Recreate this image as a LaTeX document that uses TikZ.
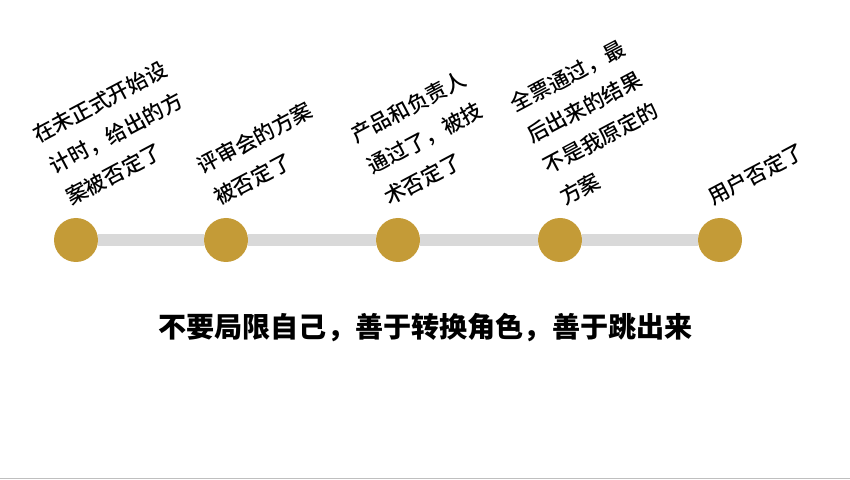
\documentclass[tikz,border=0pt]{standalone}
\usepackage{fontspec}
\newfontfamily\cjk{Noto Sans CJK SC}
\newfontfamily\cjkmed{Noto Sans CJK SC Medium}
\usetikzlibrary{positioning}
\definecolor{gold}{HTML}{C49B37}
\definecolor{track}{HTML}{D9D9D9}

\begin{document}
\begin{tikzpicture}[
    stop/.style={circle,fill=gold,minimum size=0.88cm,inner sep=0pt},
    rail/.style={draw=track,line width=0.24cm},
    lbl/.style={rotate=28,anchor=south west,align=left,inner sep=0pt,
      font=\cjkmed\fontsize{12}{20}\selectfont},
    motto/.style={font=\cjk\bfseries\fontsize{16}{20}\selectfont}
  ]
  \useasboundingbox (0,0) rectangle (17,9.58);

  \node[stop] (c1) at (1.52,4.78) {};
  \node[stop] (c2) at (4.52,4.78) {};
  \node[stop] (c3) at (7.96,4.78) {};
  \node[stop] (c4) at (11.20,4.78) {};
  \node[stop] (c5) at (14.40,4.78) {};

  \path[rail] (c1) edge (c2) (c2) edge (c3) (c3) edge (c4) (c4) edge (c5);

  \node[lbl] (t1) at (1.44,5.42) {在未正式开始设\\计时，给出的方\\案被否定了};
  \node[lbl] (t2) at (4.40,5.42) {评审会的方案\\被否定了};
  \node[lbl] (t3) at (7.80,5.42) {产品和负责人\\通过了，被技\\术否定了};
  \node[lbl] (t4) at (11.32,5.42) {全票通过，最\\后出来的结果\\不是我原定的\\方案};
  \node[lbl] (t5) at (14.28,5.42) {用户否定了};

  \node[motto] (m) at (8.51,3.02) {不要局限自己，善于转换角色，善于跳出来};

  \draw[draw=black!25,line width=0.03cm] (0,0.015) -- (17,0.015);
\end{tikzpicture}
\end{document}
